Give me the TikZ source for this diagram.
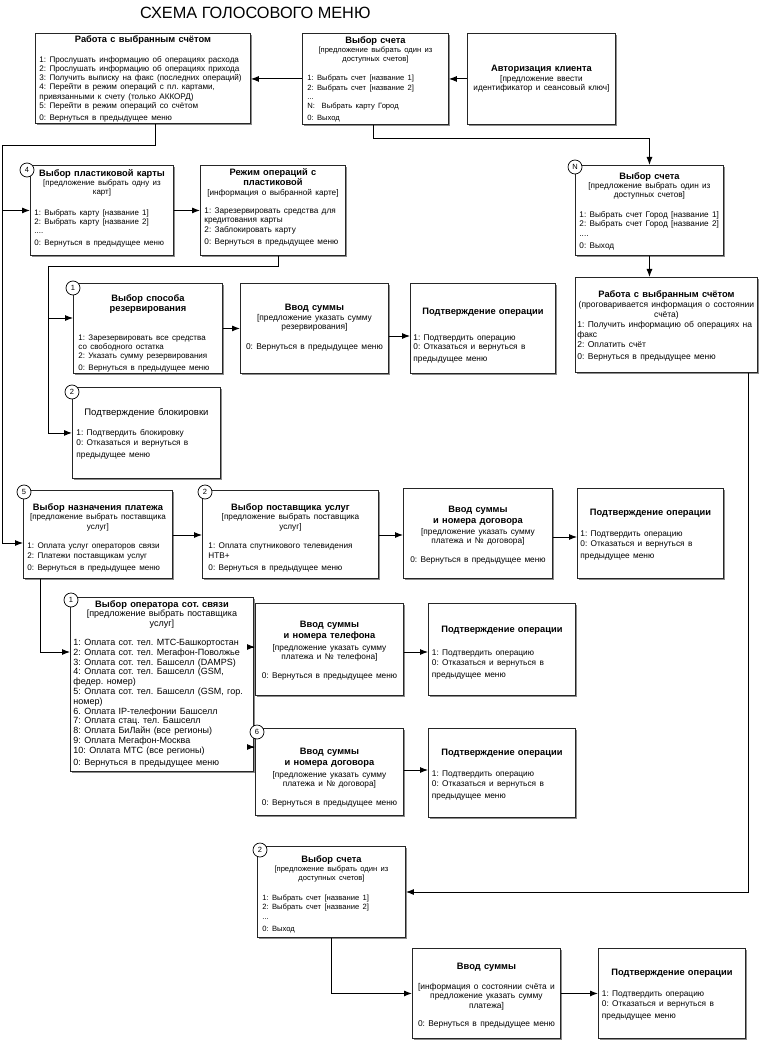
\documentclass[tikz,border=0pt]{standalone}
\usepackage{fontspec}
\setmainfont{Liberation Sans}
\usetikzlibrary{arrows.meta,shadows,calc}
\newcommand\bxhd[1]{{\centering\fontsize{9.3}{10.6}\selectfont\bfseries #1\par}}
\newcommand\bxsb[1]{{\centering #1\par}}
\newcommand\bxgap[1][10pt]{\par\vspace{#1}}
\newcommand\bx[5]{\node[box,minimum width=#4pt,minimum height=#5pt] (#1) at (#2,#3) {};}
\newcommand\bxtext[6]{\node[txt,text width=#2pt] (#1t) at ($(#1.north)+(0,#3)$) {\fontsize{#4}{#5}\selectfont\frenchspacing #6};}
\begin{document}
\begin{tikzpicture}[x=1pt,y=-1pt,
  box/.style={draw=black!85,line width=0.9pt,fill=white,anchor=north west,inner sep=0pt,
     drop shadow={shadow xshift=1.3pt,shadow yshift=-1.3pt,fill=black!45,opacity=1}},
  txt/.style={anchor=north,inner sep=0pt,align=left},
  num/.style={circle,draw=black,fill=white,line width=0.7pt,minimum size=14pt,inner sep=0pt,font=\fontsize{7.5}{8}\selectfont},
  ln/.style={draw=black,line width=0.9pt},
  arr/.style={ln,-{Latex[length=8pt,width=6pt]}}]
\fill[white] (0,0) rectangle (769,1040);
\useasboundingbox (0,0) rectangle (769,1040);

\node[anchor=west,inner sep=0pt,font=\fontsize{16.3}{19}\selectfont] (title) at (140,12.5) {СХЕМА ГОЛОСОВОГО МЕНЮ};

% boxes
\bx{A}{35}{33}{215}{90}
\bx{B}{302}{33}{146}{91}
\bx{C}{467}{33}{148}{91}
\bx{D}{30}{165}{143}{90}
\bx{E}{200}{165}{145}{90}
\bx{N1}{575}{165}{148}{90}
\bx{N2}{575}{277}{182}{95}
\bx{F}{73}{283}{149}{90}
\bx{G}{240}{283}{148}{90}
\bx{H}{410}{283}{145}{90}
\bx{I}{72}{387}{148}{91}
\bx{J}{23}{490}{149}{88}
\bx{K}{202}{490}{176}{88}
\bx{L}{403}{488}{149}{90}
\bx{M}{577}{488}{146}{90}
\bx{O}{70}{597}{183}{174}
\bx{P}{255}{603}{148}{92}
\bx{R}{428}{603}{147}{92}
\bx{Q}{255}{728}{148}{87}
\bx{S}{428}{728}{147}{89}
\bx{T}{257}{846}{148}{91}
\bx{U}{412}{948}{148}{90}
\bx{V}{598}{948}{147}{90}

% texts
\bxtext{A}{207}{2}{8.1}{9.2}{\bxhd{Работа с выбранным счётом}\bxgap[11pt]1: Прослушать информацию об операциях расхода\\2: Прослушать информацию об операциях прихода\\3: Получить выписку на факс (последних операций)\\4: Перейти в режим операций с пл. картами,\\привязанными к счету (только АККОРД)\\5: Перейти в режим операций со счётом\\0: Вернуться в предыдущее меню}
\bxtext{B}{136}{3}{7.6}{9.3}{\bxhd{Выбор счета}\bxsb{[предложение выбрать один из\\доступных счетов]}\bxgap[10pt]1: Выбрать счет [название 1]\\2: Выбрать счет [название 2]\\...\\N:\ \ Выбрать карту Город\\0: Выход}
\node[txt,text width=140pt,anchor=center] (Ct) at (C.center) {\fontsize{8.2}{9.6}\selectfont\bxhd{Авторизация клиента}\bxsb{[предложение ввести\\идентификатор и сеансовый ключ]}};
\bxtext{D}{135}{4}{7.9}{9.3}{\bxhd{Выбор пластиковой карты}\bxsb{[предложение выбрать одну из\\карт]}\bxgap[11pt]1: Выбрать карту [название 1]\\2: Выбрать карту [название 2]\\....\\0: Вернуться в предыдущее меню}
\bxtext{E}{137}{3}{8.2}{9.4}{\bxhd{Режим операций с\\пластиковой}\bxsb{[информация о выбранной карте]}\bxgap[9pt]1: Зарезервировать средства для\\кредитования карты\\2: Заблокировать карту\\0: Вернуться в предыдущее меню}
\bxtext{N1}{140}{7}{8.2}{9.4}{\bxhd{Выбор счета}\bxsb{[предложение выбрать один из\\доступных счетов]}\bxgap[10pt]1: Выбрать счет Город [название 1]\\2: Выбрать счет Город [название 2]\\....\\0: Выход}
\bxtext{N2}{178}{13}{8.5}{10}{\bxhd{Работа с выбранным счётом}\bxsb{(проговаривается информация о состоянии\\счёта)}1: Получить информацию об операциях на\\факс\\2: Оплатить счёт\\0: Вернуться в предыдущее меню}
\bxtext{F}{139}{11}{8.0}{9.4}{\bxhd{Выбор способа\\резервирования}\bxgap[19pt]1: Зарезервировать все средства\\со свободного остатка\\2: Указать сумму резервирования\\0: Вернуться в предыдущее меню}
\bxtext{G}{140}{21}{8.4}{9.6}{\bxhd{Ввод суммы}\bxsb{[предложение указать сумму\\резервирования]}\bxgap[10pt]\bxsb{0: Вернуться в предыдущее меню}}
\bxtext{H}{139}{25}{8.3}{9.2}{\bxhd{Подтверждение операции}\bxgap[17pt]1: Подтвердить операцию\\0: Отказаться и вернуться в\\предыдущее меню}
\bxtext{I}{140}{21}{8.3}{9.6}{{\centering\fontsize{9.5}{10.6}\selectfont Подтверждение блокировки\par}\bxgap[11pt]1: Подтвердить блокировку\\0: Отказаться и вернуться в\\предыдущее меню}
\bxtext{J}{141}{13}{8.1}{9.6}{\bxhd{Выбор назначения платежа}\bxsb{[предложение выбрать поставщика\\услуг]}\bxgap[10pt]1: Оплата услуг операторов связи\\2: Платежи поставщикам услуг\\0: Вернуться в предыдущее меню}
\bxtext{K}{164}{13}{8.2}{9.6}{\bxhd{Выбор поставщика услуг}\bxsb{[предложение выбрать поставщика\\услуг]}\bxgap[10pt]1: Оплата спутникового телевидения\\НТВ+\\0: Вернуться в предыдущее меню}
\bxtext{L}{141}{18}{8.3}{9.2}{\bxhd{Ввод суммы\\и номера договора}\bxgap[2pt]\bxsb{[предложение указать сумму\\платежа и № договора]}\bxgap[10pt]\bxsb{0: Вернуться в предыдущее меню}}
\bxtext{M}{140}{21}{8.3}{9.2}{\bxhd{Подтверждение операции}\bxgap[12pt]1: Подтвердить операцию\\0: Отказаться и вернуться в\\предыдущее меню}
\bxtext{O}{177}{3}{9.0}{9.8}{\bxhd{Выбор оператора сот. связи}\bxsb{[предложение выбрать поставщика\\услуг]}\bxgap[9pt]1: Оплата сот. тел. МТС-Башкортостан\\2: Оплата сот. тел. Мегафон-Поволжье\\3: Оплата сот. тел. Башселл (DAMPS)\\4: Оплата сот. тел. Башселл (GSM,\\федер. номер)\\5: Оплата сот. тел. Башселл (GSM, гор.\\номер)\\6. Оплата IP-телефонии Башселл\\7: Оплата стац. тел. Башселл\\8: Оплата БиЛайн (все регионы)\\9: Оплата Мегафон-Москва\\10: Оплата МТС (все регионы)\\0: Вернуться в предыдущее меню}
\bxtext{P}{140}{18}{8.3}{9.3}{\bxhd{Ввод суммы\\и номера телефона}\bxgap[3pt]\bxsb{[предложение указать сумму\\платежа и № телефона]}\bxgap[9.5pt]\bxsb{0: Вернуться в предыдущее меню}}
\bxtext{R}{140}{23}{8.3}{9.2}{\bxhd{Подтверждение операции}\bxgap[14pt]1: Подтвердить операцию\\0: Отказаться и вернуться в\\предыдущее меню}
\bxtext{Q}{140}{20}{8.3}{9.3}{\bxhd{Ввод суммы\\и номера договора}\bxgap[3pt]\bxsb{[предложение указать сумму\\платежа и № договора]}\bxgap[9.5pt]\bxsb{0: Вернуться в предыдущее меню}}
\bxtext{S}{140}{21}{8.3}{9.2}{\bxhd{Подтверждение операции}\bxgap[12pt]1: Подтвердить операцию\\0: Отказаться и вернуться в\\предыдущее меню}
\bxtext{T}{138}{9}{7.6}{9.4}{\bxhd{Выбор счета}\bxsb{[предложение выбрать один из\\доступных счетов]}\bxgap[10pt]1: Выбрать счет [название 1]\\2: Выбрать счет [название 2]\\...\\0: Выход}
\bxtext{U}{140}{15}{8.4}{9.6}{\bxhd{Ввод суммы}\bxgap[10pt]\bxsb{[информация о состоянии счёта и\\предложение указать сумму\\платежа]}\bxgap[8.5pt]\bxsb{0: Вернуться в предыдущее меню}}
\bxtext{V}{140}{21}{8.3}{9.2}{\bxhd{Подтверждение операции}\bxgap[12pt]1: Подтвердить операцию\\0: Отказаться и вернуться в\\предыдущее меню}

% numbered circles
\node[num] (cD) at ($(D.north west)+(-3,5)$) {4};
\node[num] (cF) at ($(F.north west)+(0,5)$) {1};
\node[num] (cI) at ($(I.north west)+(0,5)$) {2};
\node[num] (cJ) at ($(J.north west)+(1,2)$) {5};
\node[num] (cK) at ($(K.north west)+(3,2)$) {2};
\node[num] (cN) at ($(N1.north west)+(0,2)$) {N};
\node[num] (cO) at ($(O.north west)+(1,3)$) {1};
\node[num] (cQ) at ($(Q.north west)+(2,4)$) {6};
\node[num] (cT) at ($(T.north west)+(3,4)$) {2};

% corner coordinates
\coordinate (k1) at (155,145);
\coordinate (k2) at (2,145);
\coordinate (k4) at (278,266);
\coordinate (k5) at (48,266);
\coordinate (k6) at (373,138);
\coordinate (k7) at (748,892);
\coordinate (k8) at (40,652);
\coordinate (Jin) at (J.west |- 0,543);
\coordinate (Fin) at (F.west |- 0,318);

% connectors
\draw[arr] (C.west) -- (B.east);
\draw[arr] (B.west) -- (B.west -| A.east);
\draw[arr] (B.south -| k6) -- (k6) -| (N1.north);
\draw[arr] (N1.south) -- (N1.south |- N2.north);
\draw[arr] (A.south -| k1) -- (k1) -- (k2) |- (Jin);
\draw[arr] (k2 |- D.west) -- (D.west);
\draw[arr] (D.east) -- (E.west);
\draw[arr] (E.south -| k4) -- (k4) -- (k5) |- (I.west);
\draw[arr] (k5 |- Fin) -- (Fin);
\draw[arr] (F.east) -- (G.west);
\draw[arr] (G.east |- 0,336) -- (H.west |- 0,336);
\draw[arr] (J.east |- 0,535) -- (K.west |- 0,535);
\draw[arr] (K.east |- 0,535) -- (L.west |- 0,535);
\draw[arr] (L.east |- 0,537) -- (M.west |- 0,537);
\draw[arr] (J.south -| k8) |- (O.west |- k8);
\draw[arr] (O.east |- 0,647) -- (P.west |- 0,647);
\draw[arr] (O.east |- 0,747) -- (Q.west |- 0,747);
\draw[arr] (P.east |- 0,652) -- (R.west |- 0,652);
\draw[arr] (Q.east |- 0,770) -- (S.west |- 0,770);
\draw[arr] (N2.south -| k7) -- (k7) -- (T.east |- k7);
\draw[arr] (T.south) |- (U.west);
\draw[arr] (U.east) -- (V.west);
\end{tikzpicture}
\end{document}
